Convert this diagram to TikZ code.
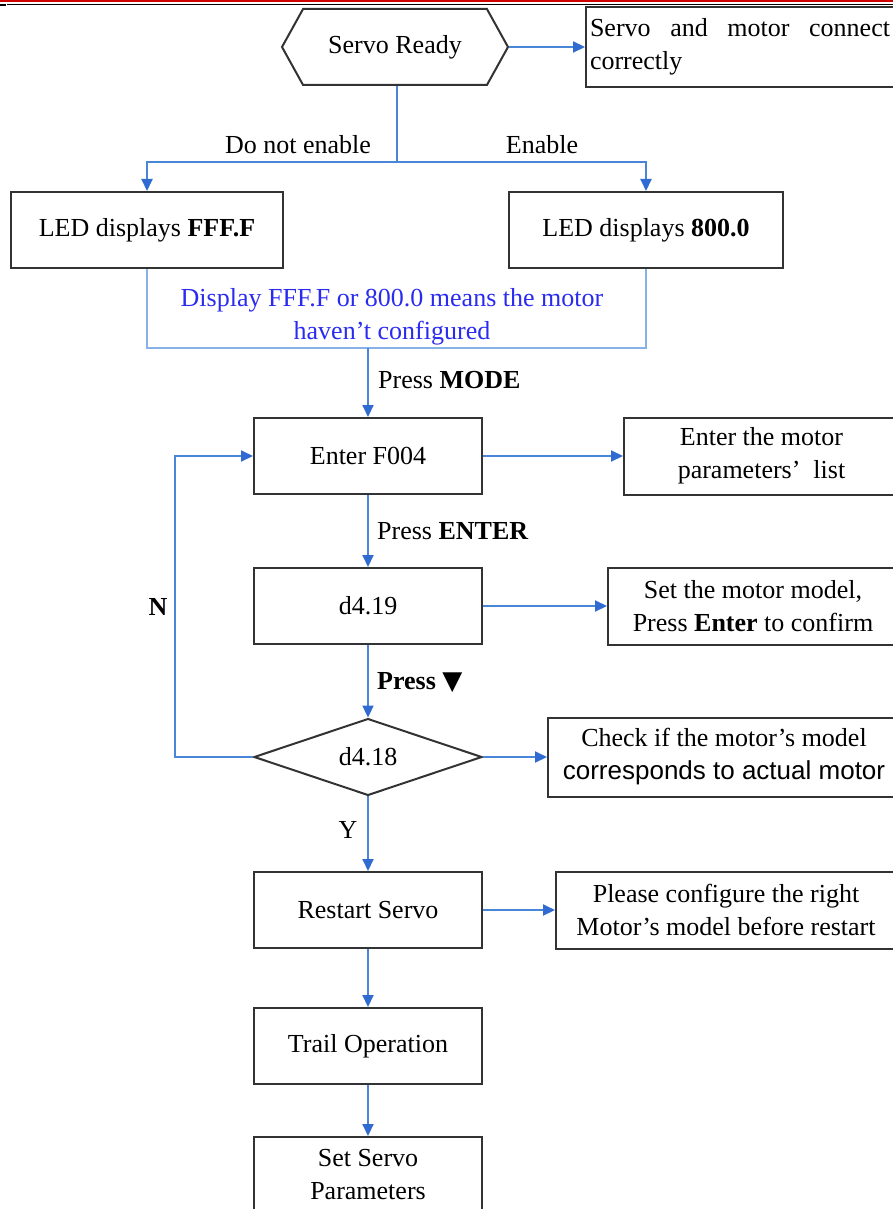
\documentclass[tikz,border=0pt]{standalone}
\usepackage{fontspec}
\setmainfont{Liberation Serif}
\newfontfamily\sansfont{Liberation Sans}
\newfontfamily\symfont{DejaVu Sans}
\usetikzlibrary{arrows.meta,positioning,shapes.geometric,shapes.symbols}
\definecolor{FlowBlue}{HTML}{4A86D8}
\definecolor{HeadBlue}{HTML}{2F6BD0}
\definecolor{JoinBlue}{HTML}{86B2E8}
\definecolor{NoteBlue}{HTML}{2B2BF0}
\definecolor{BoxInk}{HTML}{333333}
\definecolor{RuleRed}{HTML}{D00000}
\newcommand{\flowsize}{\fontsize{26}{33}\selectfont}
\tikzset{
  stepbox/.style={rectangle, draw=BoxInk, line width=2pt, minimum width=228pt,
             minimum height=76pt, inner sep=2pt, align=center, font=\flowsize},
  notebox/.style={rectangle, draw=BoxInk, line width=2pt, minimum height=77pt,
             inner sep=3pt, align=center, font=\flowsize, anchor=west},
  hexbox/.style={signal, signal to=west and east, draw=BoxInk, line width=2pt,
             minimum width=226pt, minimum height=76pt, signal pointer angle=122,
             inner sep=0pt, font=\flowsize},
  testbox/.style={diamond, draw=BoxInk, line width=2pt, minimum width=228pt,
             minimum height=76pt, inner sep=0pt, font=\flowsize},
  flow/.style={draw=FlowBlue, line width=2pt,
             -{Triangle[length=12pt,width=11pt,color=HeadBlue,fill=HeadBlue]}},
  plainflow/.style={draw=FlowBlue, line width=2pt},
  joinline/.style={draw=JoinBlue, line width=2pt},
  flowlabel/.style={font=\flowsize, inner sep=1pt},
}

\begin{document}
\begin{tikzpicture}[x=1pt, y=-1pt]
\useasboundingbox (0,0) rectangle (893,1209);
% page header rules
\draw[RuleRed, line width=2.5pt] (0,1.2) -- (893,1.2);
\draw[black, line width=1.5pt] (7,4.5) -- (893,4.5);
\draw[black, line width=2pt] (0,5.5) -- (6,5.5);

% start
\node[hexbox] (ready) at (395,47) {Servo Ready};
\node[notebox, align=left, text width=300pt, minimum height=80pt, inner xsep=4pt]
  (connect) at (585,47) {Servo\hfill and\hfill motor\hfill connect\\correctly};
\draw[flow] (ready.east) -- (connect.west);

\coordinate (split) at (397,162);
\node[stepbox, minimum width=272pt] (ledf) at (147,230) {LED displays \textbf{FFF.F}};
\node[stepbox, minimum width=274pt] (led8) at (646,230) {LED displays \textbf{800.0}};
\draw[plainflow] (ready.south -| split) -- (split);
\draw[flow] (split) -| (ledf.north);
\draw[flow] (split) -| (led8.north);
\node[flowlabel] (noenable) at (298,145) {Do not enable};
\node[flowlabel] (enable) at (542,145) {Enable};

% not configured
\coordinate (join) at (368,348);
\draw[joinline] (ledf.south) |- (join) -| (led8.south);
\node[font=\flowsize, text=NoteBlue, align=center] (motornote) at (392,317)
  {Display FFF.F or 800.0 means the motor\\haven’t configured};

% main column
\node[stepbox] (f004) at (368,456) {Enter F004};
\node[stepbox] (d419) at (368,606) {d4.19};
\node[testbox] (d418) at (368,757) {d4.18};
\node[stepbox] (restart) at (368,910) {Restart Servo};
\node[stepbox] (trail) at (368,1046) {Trail Operation};
\node[stepbox] (setpar) at (368,1175) {Set Servo\\Parameters};

\draw[flow] (join) -- (f004.north);
\node[flowlabel, anchor=west] (pmode) at (377,380) {Press \textbf{MODE}};
\draw[flow] (f004) -- (d419);
\node[flowlabel, anchor=west] (penter) at (376,531) {Press \textbf{ENTER}};
\draw[flow] (d419) -- (d418);
\node[flowlabel, anchor=west] (pdown) at (376,683) {\textbf{Press {\symfont ▼}}};
\draw[flow] (d418) -- (restart);
\node[flowlabel] (yes) at (348,830) {Y};
\draw[flow] (restart) -- (trail);
\draw[flow] (trail) -- (setpar);

% back to F004
\draw[flow] (d418.west) -- ++(-78,0) |- (f004.west);
\node[flowlabel] (no) at (158,607) {\textbf{N}};

% side notes
\node[notebox, minimum width=280pt] (paramlist) at (623,456)
  {\hspace*{-5pt}Enter the motor\\\hspace*{-5pt}parameters’\ \ list};
\node[notebox, minimum width=295pt] (setmodel) at (607,606)
  {\hspace*{-5pt}Set the motor model,\\\hspace*{-5pt}Press \textbf{Enter} to confirm};
\node[notebox, minimum width=352pt, minimum height=79pt] (checkmodel) at (547,757)
  {Check if the motor’s model\\{\sansfont corresponds to actual motor}};
\node[notebox, minimum width=345pt] (rightmodel) at (555,910)
  {\hspace*{-5pt}Please configure the right\\\hspace*{-5pt}Motor’s model before restart};
\draw[flow] (f004) -- (paramlist);
\draw[flow] (d419) -- (setmodel);
\draw[flow] (d418) -- (checkmodel);
\draw[flow] (restart) -- (rightmodel);
\end{tikzpicture}
\end{document}
